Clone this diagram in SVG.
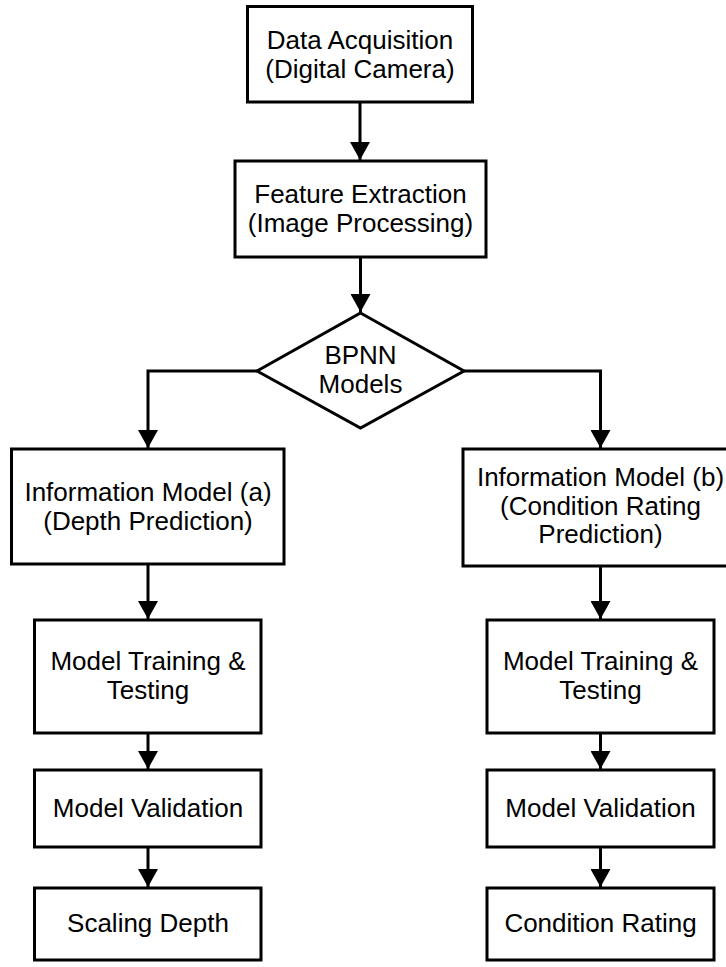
<svg xmlns="http://www.w3.org/2000/svg" width="726" height="967" viewBox="0 0 726 967">
<style>
  .box { fill: #ffffff; stroke: #000000; stroke-width: 3; }
  .lbl { font-family: "Liberation Sans", Arial, sans-serif; font-size: 26px; fill: #000000; text-anchor: middle; }
  .con { fill: none; stroke: #000000; stroke-width: 3; }
</style>
<defs>
  <marker id="arr" markerUnits="userSpaceOnUse" markerWidth="20" markerHeight="20" refX="18" refY="10" orient="auto">
    <path d="M0,0 L18,10 L0,20 z" fill="#000000"/>
  </marker>
</defs>
<rect width="726" height="967" fill="#ffffff"/>

<g id="connectors">
  <path class="con" d="M360,102 L360,160" marker-end="url(#arr)"/>
  <path class="con" d="M360.5,257 L360.5,312" marker-end="url(#arr)"/>
  <path class="con" d="M257,371 L148,371 L148,448" marker-end="url(#arr)"/>
  <path class="con" d="M464,371 L600.5,371 L600.5,448" marker-end="url(#arr)"/>
  <path class="con" d="M148,564 L148,619" marker-end="url(#arr)"/>
  <path class="con" d="M148,733 L148,769" marker-end="url(#arr)"/>
  <path class="con" d="M148,847 L148,887" marker-end="url(#arr)"/>
  <path class="con" d="M600.5,566 L600.5,619" marker-end="url(#arr)"/>
  <path class="con" d="M600.5,733 L600.5,769" marker-end="url(#arr)"/>
  <path class="con" d="M600.5,847 L600.5,887" marker-end="url(#arr)"/>
</g>

<g id="data-acquisition">
  <rect class="box" x="247.5" y="6.5" width="225" height="95.5"/>
  <text class="lbl" x="360" y="48.5">Data Acquisition</text>
  <text class="lbl" x="360" y="77.5">(Digital Camera)</text>
</g>

<g id="feature-extraction">
  <rect class="box" x="235" y="161" width="251" height="96"/>
  <text class="lbl" x="360.5" y="203">Feature Extraction</text>
  <text class="lbl" x="360.5" y="232">(Image Processing)</text>
</g>

<g id="bpnn-models">
  <polygon class="box" points="360.5,313 464,371 360.5,428 257,371"/>
  <text class="lbl" x="360.5" y="364">BPNN</text>
  <text class="lbl" x="360.5" y="393">Models</text>
</g>

<g id="info-model-a">
  <rect class="box" x="11.5" y="449" width="272.5" height="115"/>
  <text class="lbl" x="148" y="501">Information Model (a)</text>
  <text class="lbl" x="148" y="530">(Depth Prediction)</text>
</g>

<g id="training-a">
  <rect class="box" x="34.5" y="620" width="226.5" height="113"/>
  <text class="lbl" x="148" y="669.5">Model Training &amp;</text>
  <text class="lbl" x="148" y="698.5">Testing</text>
</g>

<g id="validation-a">
  <rect class="box" x="34.5" y="770" width="226.5" height="77"/>
  <text class="lbl" x="148" y="817">Model Validation</text>
</g>

<g id="scaling-depth">
  <rect class="box" x="34.5" y="888" width="226.5" height="72"/>
  <text class="lbl" x="148" y="932">Scaling Depth</text>
</g>

<g id="info-model-b">
  <rect class="box" x="463" y="449" width="275" height="117"/>
  <text class="lbl" x="600.5" y="486">Information Model (b)</text>
  <text class="lbl" x="600.5" y="514.5">(Condition Rating</text>
  <text class="lbl" x="600.5" y="543">Prediction)</text>
</g>

<g id="training-b">
  <rect class="box" x="487" y="620" width="227" height="113"/>
  <text class="lbl" x="600.5" y="669.5">Model Training &amp;</text>
  <text class="lbl" x="600.5" y="698.5">Testing</text>
</g>

<g id="validation-b">
  <rect class="box" x="487" y="770" width="227" height="77"/>
  <text class="lbl" x="600.5" y="817">Model Validation</text>
</g>

<g id="condition-rating">
  <rect class="box" x="487" y="888" width="227" height="72"/>
  <text class="lbl" x="600.5" y="932">Condition Rating</text>
</g>
</svg>
